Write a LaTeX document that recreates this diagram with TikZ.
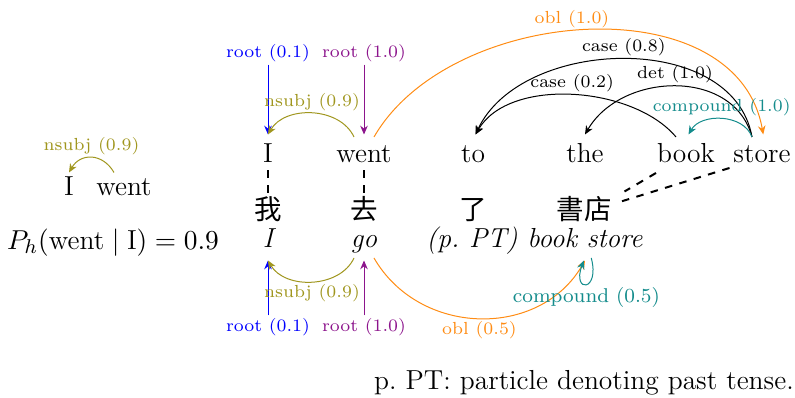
\documentclass[tikz,border=0pt]{standalone}
\usepackage{fontspec}
\usepackage{amsmath}
\newfontfamily\cjk{Noto Sans CJK TC}
\usetikzlibrary{arrows.meta,calc}
\definecolor{oblc}{RGB}{255,140,20}
\definecolor{nsubjc}{RGB}{160,150,30}
\definecolor{compc}{RGB}{20,140,140}
\definecolor{rootc}{RGB}{140,20,140}

\begin{document}
\begin{tikzpicture}[x=0.4pt,y=0.4pt,
    word/.style={font=\fontsize{11}{13}\selectfont, inner sep=1pt, text height=8pt, text depth=2pt},
    gloss/.style={word, font=\fontsize{11}{13}\selectfont\itshape},
    zh/.style={word, font=\fontsize{11}{13}\selectfont\cjk},
    lbl/.style={font=\fontsize{7}{8}\selectfont, inner sep=1pt},
    dep/.style={-{Stealth[length=3.5pt,width=3pt]}, thin},
    align/.style={dashed, line width=0.8pt}]
  \useasboundingbox (0,0) rectangle (795,-398);
  % single edge on the left
  \node[word] (I0) at (69,-188) {I};
  \node[word] (went0) at (124,-188) {went};
  \draw[dep,nsubjc] ([xshift=-4pt]went0.north) to[out=120,in=60,looseness=1.3] node[lbl,above] {nsubj (0.9)} (I0.north);
  \node[word] (ph) at (113,-242) {$P_h(\text{went} \mid \text{I}) = 0.9$};
  % english sentence
  \node[word] (I) at (268,-155) {I};
  \node[word] (went) at (364,-155) {went};
  \node[word] (to) at (473,-155) {to};
  \node[word] (the) at (585,-155) {the};
  \node[word] (book) at (686,-155) {book};
  \node[word] (store) at (762,-155) {store};
  % chinese sentence and gloss
  \node[zh] (wo) at (268,-212) {我};
  \node[zh] (qu) at (364,-212) {去};
  \node[zh] (le) at (473,-212) {了};
  \node[zh] (sd) at (584,-212) {書店};
  \node[gloss] (gI) at (268,-240) {I};
  \node[gloss] (go) at (364,-240) {go};
  \node[gloss] (ppt) at (472,-240) {(p.\ PT)};
  \node[gloss] (bs) at (585,-240) {book store};
  % word alignment
  \draw[align] (I.south) -- (wo.north);
  \draw[align] (went.south) -- (qu.north);
  \draw[align] ([xshift=-12pt,yshift=-1pt]book.south) -- ([xshift=4pt,yshift=2pt]sd.north east);
  \draw[align] ([xshift=-13pt,yshift=1pt]store.south) -- ([xshift=2pt,yshift=4pt]sd.east);
  % roots
  \node[lbl,blue] (rootI) at (268,-53) {root (0.1)};
  \node[lbl,rootc] (rootW) at (364,-53) {root (1.0)};
  \node[lbl,blue] (brootI) at (268,-327) {root (0.1)};
  \node[lbl,rootc] (brootW) at (364,-327) {root (1.0)};
  \draw[dep,blue] (rootI) -- ([yshift=2pt]I.north);
  \draw[dep,rootc] (rootW) -- ([yshift=2pt]went.north);
  \draw[dep,blue] (brootI) -- ([yshift=-2pt]gI.south);
  \draw[dep,rootc] (brootW) -- ([yshift=-2pt]go.south);
  % arcs above
  \draw[dep,nsubjc] ([xshift=-4pt,yshift=1pt]went.north) to[out=115,in=60] node[lbl,above] {nsubj (0.9)} ([yshift=2pt]I.north);
  \draw[dep,oblc] ([xshift=4pt,yshift=1pt]went.north) to[out=60,in=100] node[lbl,above,pos=0.47] {obl (1.0)} ([xshift=0.5pt,yshift=2pt]store.north);
  \draw[dep] ([xshift=-4pt,yshift=1pt]store.north) to[out=100,in=65] node[lbl,above] {case (0.8)} ([xshift=1pt,yshift=2pt]to.north);
  \draw[dep] ([xshift=-4pt,yshift=1pt]book.north) to[out=130,in=60,looseness=0.85] node[lbl,above] {case (0.2)} ([xshift=1pt,yshift=2pt]to.north);
  \draw[dep] ([xshift=-4pt,yshift=1pt]store.north) to[out=105,in=60,looseness=1.1] node[lbl,above] {det (1.0)} ([yshift=2pt]the.north);
  \draw[dep,compc] ([xshift=-4pt,yshift=1pt]store.north) to[out=110,in=60] node[lbl,above] {compound (1.0)} ([xshift=1pt,yshift=2pt]book.north);
  % arcs below
  \draw[dep,nsubjc] ([xshift=-4pt,yshift=-1pt]go.south) to[out=-115,in=-60] node[lbl,below] {nsubj (0.9)} ([yshift=-2pt]gI.south);
  \draw[dep,oblc] ([xshift=4pt,yshift=-1pt]go.south) to[out=-60,in=-120,looseness=1.1] node[lbl,below] {obl (0.5)} ([yshift=-2pt]bs.south);
  \draw[dep,compc] ([xshift=2.5pt,yshift=-1pt]bs.south) .. controls +(-75:14pt) and +(-110:14pt) .. node[lbl,below,font=\fontsize{8}{9}\selectfont] {compound (0.5)} ([xshift=-0.5pt,yshift=-2pt]bs.south);
  \node[word] (note) at (584,-382) {p.\ PT: particle denoting past tense.};
\end{tikzpicture}
\end{document}
